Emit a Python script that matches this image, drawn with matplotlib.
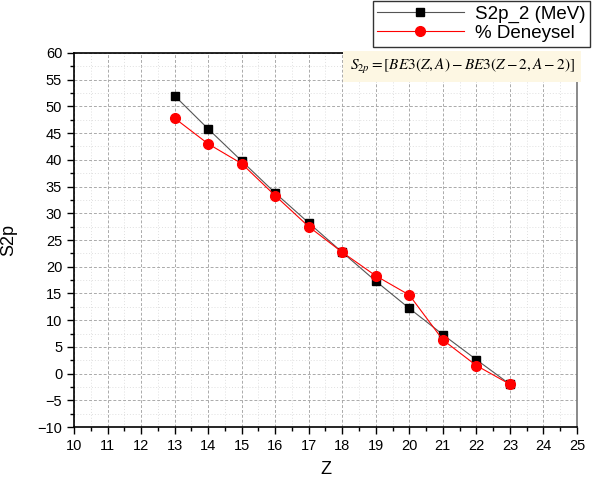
import matplotlib

matplotlib.use("Agg")
import matplotlib.pyplot as plt
from matplotlib.ticker import MultipleLocator

plt.rcParams["font.family"] = ["Liberation Sans", "DejaVu Sans"]
plt.rcParams["mathtext.fontset"] = "stix"

z = [13, 14, 15, 16, 17, 18, 19, 20, 21, 22, 23]
s2p_calc = [52.0, 45.8, 39.8, 33.8, 28.2, 22.7, 17.3, 12.2, 7.3, 2.6, -2.0]
s2p_exp = [47.8, 43.0, 39.3, 33.3, 27.5, 22.7, 18.3, 14.7, 6.3, 1.5, -2.0]

fig = plt.figure(figsize=(5.94, 4.90), dpi=100)
ax = fig.add_axes([74 / 594, 63 / 490, 503 / 594, 374 / 490])

ax.plot(z, s2p_calc, color="#555555", linewidth=0.8, marker="s", markersize=6,
        markerfacecolor="black", markeredgecolor="black", label="S2p_2 (MeV)", zorder=3)
ax.plot(z, s2p_exp, color="red", linewidth=0.8, marker="o", markersize=7,
        markerfacecolor="red", markeredgecolor="red", label="% Deneysel", zorder=4)

ax.set_xlim(10, 25)
ax.set_ylim(-10, 60)
ax.xaxis.set_major_locator(MultipleLocator(1))
ax.xaxis.set_minor_locator(MultipleLocator(0.5))
ax.yaxis.set_major_locator(MultipleLocator(5))
ax.yaxis.set_minor_locator(MultipleLocator(2.5))
ax.tick_params(which="major", direction="out", length=5, width=1, labelsize=10.5, top=False, right=False)
ax.tick_params(which="minor", direction="out", length=3, width=1, top=False, right=False)
ax.grid(which="major", linestyle=(0, (3, 2)), color="#aaaaaa", linewidth=0.7)
ax.grid(which="minor", linestyle=(0, (1, 2)), color="#e0e0e0", linewidth=0.7)
ax.set_axisbelow(True)
for s in ax.spines.values():
    s.set_linewidth(1.2)
ax.spines["right"].set_color("#777777")

ax.set_xlabel("Z", fontsize=13, labelpad=6)
ax.set_ylabel("S2p", fontsize=13)
ax.yaxis.set_label_coords(-0.113, 0.5)

ax.text(0.995, 0.99, r"$S_{2p}=\left[BE3(Z,A)-BE3(Z-2,A-2)\right]$",
        transform=ax.transAxes, ha="right", va="top", fontsize=11,
        bbox=dict(boxstyle="square,pad=0.4", facecolor="#fdf7e3", edgecolor="none"))

leg = fig.legend(loc="upper right", bbox_to_anchor=(590 / 594, 489 / 490), fontsize=13.5,
                 frameon=True, fancybox=False, edgecolor="black", borderpad=0.25,
                 handlelength=4.6, handletextpad=0.6, labelspacing=0.1, borderaxespad=0)
leg.get_frame().set_linewidth(1.0)

fig.savefig("out.png", dpi=100)
